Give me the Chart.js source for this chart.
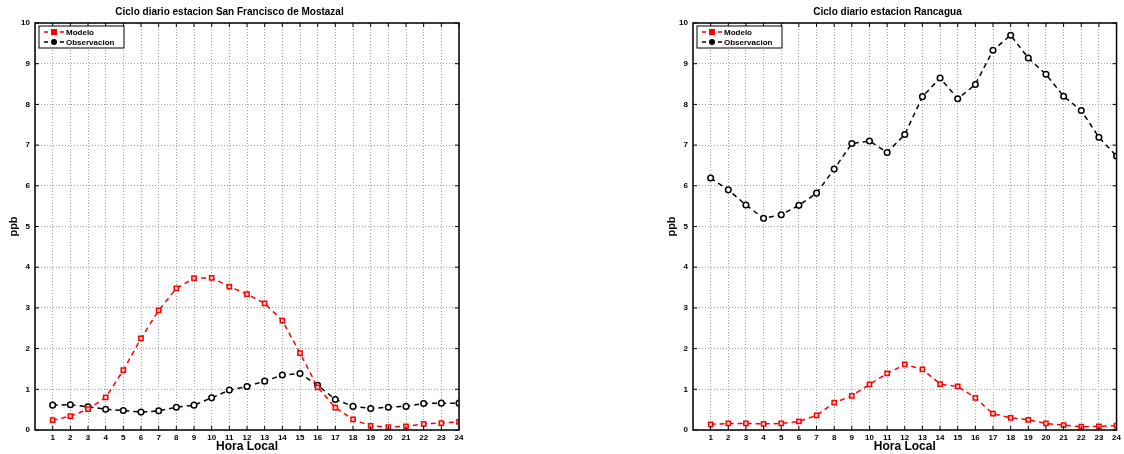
<!DOCTYPE html>
<html>
<head>
<meta charset="utf-8">
<script src="https://cdn.jsdelivr.net/npm/chart.js@4"></script>
<style>
  body { margin: 0; background: #fff; width: 1124px; height: 454px; position: relative; overflow: hidden; }
  .box { position: absolute; top: 0; height: 454px; }
</style>
</head>
<body>
<div class="box" style="left:0;width:470px"><canvas id="mostazal"></canvas></div>
<div class="box" style="left:658px;width:466px"><canvas id="rancagua"></canvas></div>
<script>
const hours = [1, 2, 3, 4, 5, 6, 7, 8, 9, 10, 11, 12, 13, 14, 15, 16, 17, 18, 19, 20, 21, 22, 23, 24];

const mostazalModelo = [0.24, 0.34, 0.51, 0.80, 1.47, 2.25, 2.94, 3.48, 3.73, 3.74, 3.52, 3.34,
    3.11, 2.69, 1.89, 1.05, 0.55, 0.26, 0.10, 0.07, 0.09, 0.15, 0.17, 0.20];
const mostazalObs = [0.61, 0.62, 0.57, 0.51, 0.48, 0.44, 0.47, 0.56, 0.61, 0.79, 0.98, 1.07,
    1.20, 1.35, 1.39, 1.10, 0.75, 0.58, 0.53, 0.56, 0.58, 0.65, 0.66, 0.66];

const rancaguaModelo = [0.14, 0.16, 0.16, 0.15, 0.16, 0.21, 0.36, 0.67, 0.84, 1.12, 1.39, 1.61,
    1.49, 1.13, 1.07, 0.79, 0.40, 0.30, 0.25, 0.16, 0.12, 0.08, 0.09, 0.11];
const rancaguaObs = [6.19, 5.90, 5.53, 5.20, 5.29, 5.52, 5.82, 6.41, 7.04, 7.10, 6.82, 7.26,
    8.19, 8.65, 8.14, 8.49, 9.33, 9.70, 9.14, 8.74, 8.20, 7.85, 7.19, 6.73];

const yTicks = [0, 1, 2, 3, 4, 5, 6, 7, 8, 9, 10];
const seriesNames = ['Modelo', 'Observacion'];

const FONT = '"Liberation Sans", Arial, sans-serif';

// frame around the plot + legend box inside, like the matlab figure
const framePlugin = {
    id: 'frame',
    afterDatasetsDraw(chart) {
        const { ctx, chartArea: a } = chart;
        ctx.save();
        ctx.strokeStyle = '#000';
        ctx.lineWidth = 1.5;
        ctx.strokeRect(a.left, a.top, a.right - a.left, a.bottom - a.top);

        // small inward ticks on all four sides
        ctx.lineWidth = 1;
        const xs = chart.scales.x, ys = chart.scales.y;
        hours.forEach(h => {
            const px = xs.getPixelForValue(h);
            ctx.beginPath();
            ctx.moveTo(px, a.bottom); ctx.lineTo(px, a.bottom - 4);
            ctx.moveTo(px, a.top); ctx.lineTo(px, a.top + 4);
            ctx.stroke();
        });
        yTicks.forEach(v => {
            const py = ys.getPixelForValue(v);
            ctx.beginPath();
            ctx.moveTo(a.left, py); ctx.lineTo(a.left + 4, py);
            ctx.moveTo(a.right, py); ctx.lineTo(a.right - 4, py);
            ctx.stroke();
        });

        // legend
        const lx = a.left + 4, ly = a.top + 3, lw = 85, lh = 22;
        ctx.fillStyle = '#fff';
        ctx.fillRect(lx, ly, lw, lh);
        ctx.lineWidth = 1;
        ctx.strokeRect(lx, ly, lw, lh);
        ctx.font = 'bold 8px ' + FONT;
        ctx.textBaseline = 'middle';
        chart.data.datasets.forEach((ds, i) => {
            const cy = ly + 6 + i * 10;
            ctx.strokeStyle = ds.borderColor;
            ctx.lineWidth = 1.5;
            ctx.setLineDash([4, 4]);
            ctx.beginPath();
            ctx.moveTo(lx + 5, cy); ctx.lineTo(lx + 25, cy);
            ctx.stroke();
            ctx.setLineDash([]);
            ctx.fillStyle = ds.borderColor;
            if (ds.pointStyle === 'rect') {
                ctx.fillRect(lx + 12, cy - 3, 6, 6);
            } else {
                ctx.beginPath();
                ctx.arc(lx + 15, cy, 3, 0, Math.PI * 2);
                ctx.fill();
            }
            ctx.fillStyle = '#000';
            ctx.fillText(ds.label, lx + 27, cy + 0.5);
        });
        ctx.restore();
    }
};

function makeChart(id, title, modelo, obs, padRight) {
    return new Chart(document.getElementById(id), {
        type: 'line',
        data: {
            datasets: [{
                label: seriesNames[0],
                data: hours.map((h, i) => ({ x: h, y: modelo[i] })),
                borderColor: '#ff0000',
                backgroundColor: '#ffd0d0',
                borderWidth: 1.5,
                borderDash: [5, 4],
                pointStyle: 'rect',
                pointRadius: 3,
                pointBorderWidth: 1.5,
                tension: 0
            }, {
                label: seriesNames[1],
                data: hours.map((h, i) => ({ x: h, y: obs[i] })),
                borderColor: '#000000',
                backgroundColor: '#ffffff',
                borderWidth: 1.5,
                borderDash: [5, 4],
                pointStyle: 'circle',
                pointRadius: 2.8,
                pointBorderWidth: 1.5,
                tension: 0
            }]
        },
        options: {
            responsive: true,
            maintainAspectRatio: false,
            animation: false,
            layout: { padding: { top: 1, right: padRight, bottom: 0, left: 0 } },
            plugins: {
                legend: { display: false },
                tooltip: { enabled: false },
                title: {
                    display: true,
                    text: title,
                    color: '#000',
                    font: { family: FONT, size: 10, weight: 'bold' },
                    padding: { top: 5, bottom: 5 }
                }
            },
            scales: {
                x: {
                    type: 'linear',
                    min: 0,
                    max: 24,
                    afterFit(scale) { scale.height = 24; },
                    afterBuildTicks(scale) { scale.ticks = [0].concat(hours).map(v => ({ value: v })); },
                    ticks: {
                        color: '#000',
                        padding: 3,
                        font: { family: FONT, size: 8, weight: 'bold' },
                        callback: v => (v === 0 ? '' : v)
                    },
                    grid: { color: '#a0a0a0', lineWidth: 1, drawTicks: false },
                    border: { display: false, dash: [1, 2] },
                    title: {
                        display: true,
                        text: 'Hora Local',
                        color: '#000',
                        padding: { top: 0, bottom: 0 },
                        font: { family: FONT, size: 12, weight: 'bold' }
                    }
                },
                y: {
                    min: 0,
                    max: 10,
                    afterFit(scale) { scale.width = 35; },
                    afterBuildTicks(scale) { scale.ticks = yTicks.map(v => ({ value: v })); },
                    ticks: {
                        color: '#000',
                        padding: 5,
                        font: { family: FONT, size: 8, weight: 'bold' }
                    },
                    grid: { color: '#a0a0a0', lineWidth: 1, drawTicks: false },
                    border: { display: false, dash: [1, 2] },
                    title: {
                        display: true,
                        text: 'ppb',
                        color: '#000',
                        padding: { top: 7, bottom: 4 },
                        font: { family: FONT, size: 11, weight: 'bold' }
                    }
                }
            }
        },
        plugins: [framePlugin]
    });
}

makeChart('mostazal', 'Ciclo diario estacion San Francisco de Mostazal', mostazalModelo, mostazalObs, 11);
makeChart('rancagua', 'Ciclo diario estacion Rancagua', rancaguaModelo, rancaguaObs, 7);
</script>
</body>
</html>
